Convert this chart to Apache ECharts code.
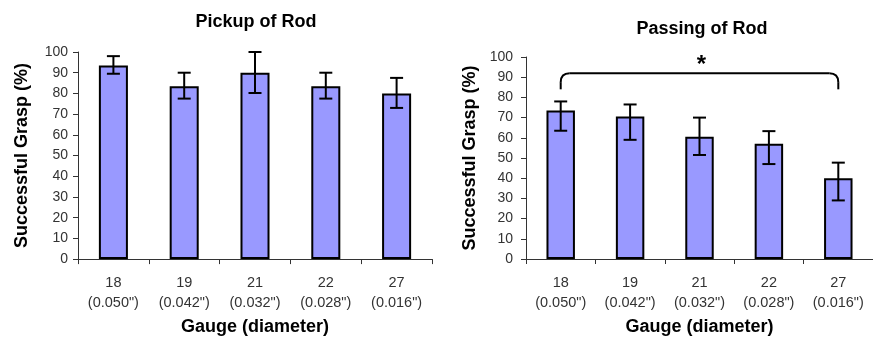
<!DOCTYPE html>
<html>
<head>
<meta charset="utf-8">
<script src="https://cdn.jsdelivr.net/npm/echarts@6/dist/echarts.min.js"></script>
<style>
html,body{margin:0;padding:0;background:#fff;}
#c{width:873px;height:341px;}
</style>
</head>
<body>
<div id="c"></div>
<script>
// ---- data ----
var categories = ['18\n(0.050")', '19\n(0.042")', '21\n(0.032")', '22\n(0.028")', '27\n(0.016")'];
var pickupMean = [93.5, 83.5, 90, 83.5, 80];
var pickupLow  = [89.5, 77.5, 80.2, 77.5, 73];
var pickupHigh = [98, 90, 100, 90, 87.5];
var passMean = [73.5, 70.5, 60.5, 57, 40];
var passLow  = [63.5, 59, 51.5, 47, 29];
var passHigh = [78, 76.5, 70, 63.3, 47.7];
var yTicks = {min: 0, max: 100, interval: 10};
// significance bracket: from category 0 to category 4, top value, end value
var bracket = [[0, 4, 92, 84]];
var bracketLabel = '*';

var FONT = '"Liberation Sans", Arial, sans-serif';
var BAR_COLOR = '#9999FF';

function errData(low, high) {
  return low.map(function (l, i) { return [i, l, high[i]]; });
}

function errRender(params, api) {
  var x = api.value(0);
  var lo = api.coord([x, api.value(1)]);
  var hi = api.coord([x, api.value(2)]);
  var half = 6.5;
  var st = {stroke: '#000', lineWidth: 2};
  return {
    type: 'group',
    children: [
      {type: 'line', shape: {x1: lo[0], y1: lo[1], x2: hi[0], y2: hi[1]}, style: st},
      {type: 'line', shape: {x1: hi[0] - half, y1: hi[1], x2: hi[0] + half, y2: hi[1]}, style: st},
      {type: 'line', shape: {x1: lo[0] - half, y1: lo[1], x2: lo[0] + half, y2: lo[1]}, style: st}
    ]
  };
}

function bracketRender(params, api) {
  var a = api.value(0), b = api.value(1), top = api.value(2), end = api.value(3);
  var pA = api.coord([a, end]);
  var pAt = api.coord([a, top]);
  var pB = api.coord([b, end]);
  var pBt = api.coord([b, top]);
  var r = 9;
  var st = {stroke: '#000', lineWidth: 2, fill: null};
  var mid = api.coord([(a + b) / 2, top]);
  return {
    type: 'group',
    children: [
      {type: 'line', shape: {x1: pA[0], y1: pA[1], x2: pAt[0], y2: pAt[1] + r}, style: st},
      {type: 'bezierCurve', shape: {x1: pAt[0], y1: pAt[1] + r, cpx1: pAt[0], cpy1: pAt[1], x2: pAt[0] + r, y2: pAt[1]}, style: st},
      {type: 'line', shape: {x1: pAt[0] + r, y1: pAt[1], x2: pBt[0] - r, y2: pBt[1]}, style: st},
      {type: 'bezierCurve', shape: {x1: pBt[0] - r, y1: pBt[1], cpx1: pBt[0], cpy1: pBt[1], x2: pBt[0], y2: pBt[1] + r}, style: st},
      {type: 'line', shape: {x1: pBt[0], y1: pBt[1] + r, x2: pB[0], y2: pB[1]}, style: st},
      {type: 'text', x: mid[0] + 2, y: mid[1] - 8, style: {text: bracketLabel, fill: '#000', font: 'bold 24px ' + FONT, align: 'center', verticalAlign: 'middle'}}
    ]
  };
}

function xAxis(gi) {
  return {
    type: 'category', gridIndex: gi, data: categories,
    boundaryGap: true,
    axisLine: {lineStyle: {color: '#333', width: 1}},
    axisTick: {show: true, alignWithLabel: false, length: 5, lineStyle: {color: '#333'}},
    axisLabel: {color: '#333', fontFamily: FONT, fontSize: 14.5, lineHeight: 20, margin: 14},
    name: 'Gauge (diameter)', nameLocation: 'middle', nameGap: 57,
    nameTextStyle: {color: '#000', fontFamily: FONT, fontSize: 18, fontWeight: 'bold'}
  };
}
function yAxis(gi, margin) {
  return {
    type: 'value', gridIndex: gi, min: yTicks.min, max: yTicks.max, interval: yTicks.interval,
    splitLine: {show: false},
    axisLine: {show: true, lineStyle: {color: '#333', width: 1}},
    axisTick: {show: true, length: 5, lineStyle: {color: '#333'}},
    axisLabel: {color: '#333', fontFamily: FONT, fontSize: 14, margin: margin},
    name: 'Successful Grasp (%)', nameLocation: 'middle', nameGap: 47,
    nameTextStyle: {color: '#000', fontFamily: FONT, fontSize: 18, fontWeight: 'bold'}
  };
}

var chart = echarts.init(document.getElementById('c'), null, {renderer: 'canvas'});
chart.setOption({
  animation: false,
  backgroundColor: '#fff',
  title: [
    {text: 'Pickup of Rod', left: 251, top: 8, textAlign: 'center',
     textStyle: {fontFamily: FONT, fontSize: 18, fontWeight: 'bold', color: '#000'}},
    {text: 'Passing of Rod', left: 697, top: 15, textAlign: 'center',
     textStyle: {fontFamily: FONT, fontSize: 18, fontWeight: 'bold', color: '#000'}}
  ],
  grid: [
    {left: 78, top: 52, width: 354, height: 209},
    {left: 526, top: 57, width: 354, height: 202}
  ],
  xAxis: [xAxis(0), xAxis(1)],
  yAxis: [yAxis(0, 10), yAxis(1, 13)],
  series: [
    {type: 'bar', xAxisIndex: 0, yAxisIndex: 0, data: pickupMean, barWidth: '41%',
     itemStyle: {color: BAR_COLOR, borderColor: '#000', borderWidth: 2}},
    {type: 'custom', xAxisIndex: 0, yAxisIndex: 0, data: errData(pickupLow, pickupHigh), renderItem: errRender, z: 5},
    {type: 'bar', xAxisIndex: 1, yAxisIndex: 1, data: passMean, barWidth: '41%',
     itemStyle: {color: BAR_COLOR, borderColor: '#000', borderWidth: 2}},
    {type: 'custom', xAxisIndex: 1, yAxisIndex: 1, data: errData(passLow, passHigh), renderItem: errRender, z: 5},
    {type: 'custom', xAxisIndex: 1, yAxisIndex: 1, data: bracket, renderItem: bracketRender, z: 6, clip: false}
  ]
});
</script>
</body>
</html>
